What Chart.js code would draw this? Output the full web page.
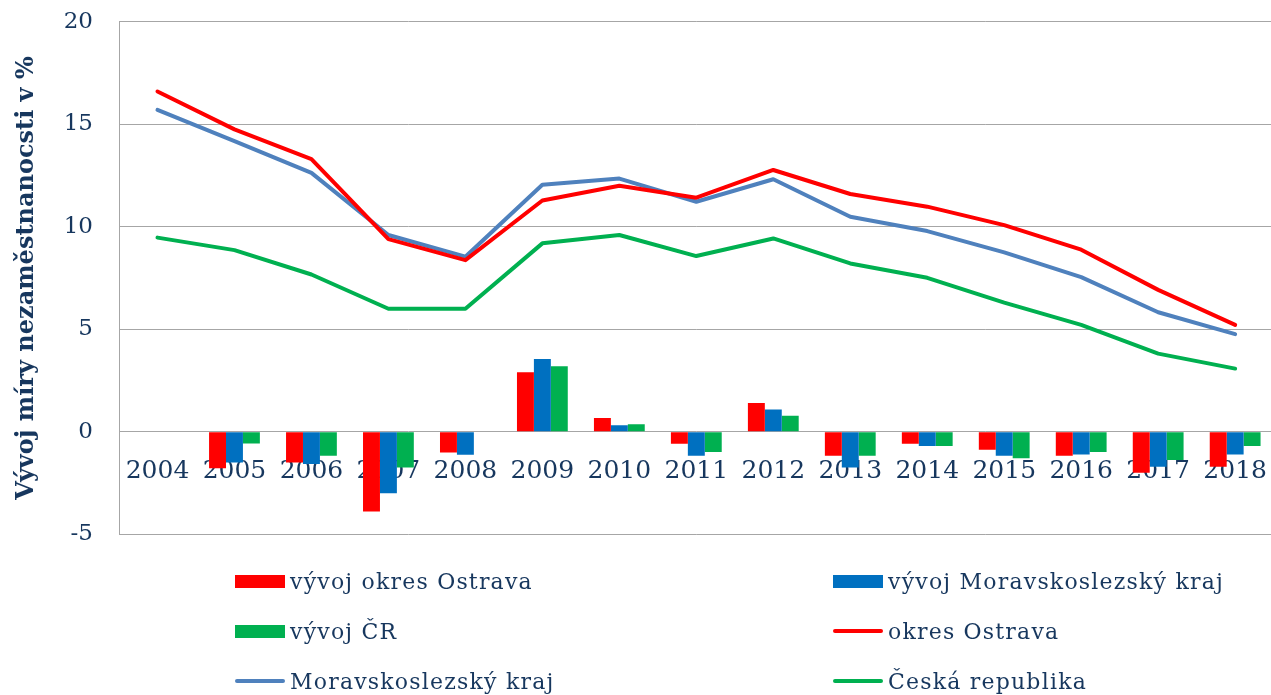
<!DOCTYPE html>
<html>
<head>
<meta charset="utf-8">
<script src="https://cdn.jsdelivr.net/npm/chart.js@4/dist/chart.umd.min.js"></script>
<style>
  html, body { margin: 0; padding: 0; background: #fff; overflow: hidden; }
  /* tick padding also pads the top/bottom of the plot, so the canvas is pulled up */
  #wrap { position: relative; width: 1284px; height: 592px; margin-top: -18px; }
  #legend { position: absolute; left: 0; top: 0; width: 1271px; height: 695px; pointer-events: none; }
  .item { position: absolute; display: flex; align-items: center; height: 30px; margin-top: -15px;
          font-family: "DejaVu Serif", serif; font-size: 22px; letter-spacing: 1.2px; color: #17375E; white-space: nowrap; }
  .sym { width: 50px; margin-right: 5px; flex: none; }
</style>
</head>
<body>
<div id="wrap"><canvas id="chart"></canvas></div>
<div id="legend"></div>
<script>
const years = ["2004", "2005", "2006", "2007", "2008", "2009", "2010", "2011",
  "2012", "2013", "2014", "2015", "2016", "2017", "2018"];

// year-on-year change (bars)
const vyvojOstrava = [null, -1.78, -1.5, -3.89, -1.01, 2.9, 0.67, -0.59, 1.4, -1.17, -0.59, -0.88, -1.17, -2.0, -1.71];
const vyvojMSK = [null, -1.5, -1.58, -3.0, -1.12, 3.55, 0.31, -1.17, 1.09, -1.75, -0.7, -1.17, -1.11, -1.71, -1.11];
const vyvojCR = [null, -0.57, -1.17, -1.74, 0, 3.19, 0.37, -0.99, 0.78, -1.17, -0.7, -1.29, -0.99, -1.38, -0.7];

// unemployment rate (lines)
const okresOstrava = [16.6, 14.75, 13.3, 9.4, 8.37, 11.28, 12.0, 11.42, 12.77, 11.6, 10.98, 10.08, 8.88, 6.92, 5.21];
const moravskoslezsky = [15.7, 14.18, 12.63, 9.6, 8.54, 12.05, 12.35, 11.22, 12.32, 10.49, 9.79, 8.75, 7.54, 5.83, 4.76];
const ceskaRepublika = [9.47, 8.86, 7.67, 6.0, 6.0, 9.19, 9.6, 8.57, 9.43, 8.21, 7.51, 6.3, 5.21, 3.81, 3.08];

const yTicks = [-5, 0, 5, 10, 15, 20];

const textColor = "#17375E";
const gridColor = "#A6A6A6";
const serif = "'DejaVu Serif', serif";

function bar(label, data, color) {
  return {
    type: "bar",
    label: label,
    data: data,
    backgroundColor: color,
    borderWidth: 0,
    barPercentage: 1,
    categoryPercentage: 0.66,
    order: 2,
  };
}

function line(label, data, color) {
  return {
    type: "line",
    label: label,
    data: data,
    borderColor: color,
    backgroundColor: color,
    borderWidth: 4,
    pointRadius: 0,
    tension: 0,
    fill: false,
    borderCapStyle: "round",
    borderJoinStyle: "round",
    order: 1,
  };
}

const chart = new Chart(document.getElementById("chart"), {
  data: {
    labels: years,
    datasets: [
      bar("vývoj okres Ostrava", vyvojOstrava, "#FF0000"),
      bar("vývoj Moravskoslezský kraj", vyvojMSK, "#0070C0"),
      bar("vývoj ČR", vyvojCR, "#00B050"),
      line("okres Ostrava", okresOstrava, "#FF0000"),
      line("Moravskoslezský kraj", moravskoslezsky, "#4F81BD"),
      line("Česká republika", ceskaRepublika, "#00B050"),
    ],
  },
  options: {
    responsive: true,
    maintainAspectRatio: false,
    animation: false,
    layout: { padding: { top: 0, bottom: 0, left: 0, right: 1 } },
    plugins: {
      legend: { display: false },
      tooltip: { enabled: false },
    },
    scales: {
      x: {
        position: { y: 0 },
        z: 1,
        grid: { display: false },
        border: { display: false },
        ticks: {
          autoSkip: false,
          maxRotation: 0,
          padding: 17,
          color: textColor,
          font: { family: serif, size: 25 },
        },
      },
      y: {
        min: yTicks[0],
        max: yTicks[yTicks.length - 1],
        afterBuildTicks: (scale) => {
          scale.ticks = yTicks.map((v) => ({ value: v }));
        },
        afterFit: (scale) => {
          scale.width = 119;
        },
        grid: { color: gridColor, lineWidth: 1, drawTicks: false },
        border: { display: true, color: gridColor, width: 1 },
        ticks: {
          padding: 26,
          color: textColor,
          font: { family: serif, size: 23 },
        },
        title: {
          display: true,
          text: "Vývoj míry nezaměstnanocsti v %",
          color: textColor,
          padding: { top: 12, bottom: 0 },
          font: { family: serif, size: 24, weight: "bold" },
        },
      },
    },
  },
});

// legend in two columns, built from the chart's datasets
const legendPos = [
  [235, 581], [833, 581],
  [235, 631], [833, 631],
  [235, 681], [833, 681],
];
const legendEl = document.getElementById("legend");
chart.data.datasets.forEach((ds, i) => {
  const item = document.createElement("div");
  item.className = "item";
  item.style.left = legendPos[i][0] + "px";
  item.style.top = legendPos[i][1] + "px";
  const sym = document.createElement("div");
  sym.className = "sym";
  if (ds.type === "bar") {
    sym.style.height = "13px";
    sym.style.background = ds.backgroundColor;
  } else {
    sym.style.height = "4px";
    sym.style.borderRadius = "2px";
    sym.style.background = ds.borderColor;
  }
  item.appendChild(sym);
  item.appendChild(document.createTextNode(ds.label));
  legendEl.appendChild(item);
});
</script>
</body>
</html>
